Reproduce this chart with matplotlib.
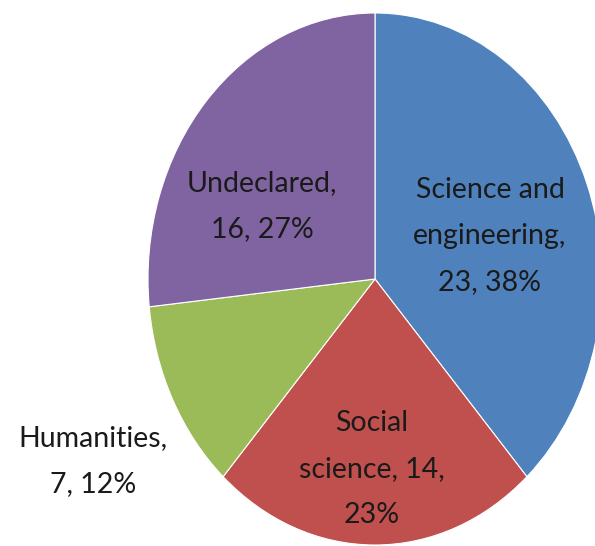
import matplotlib
matplotlib.use("Agg")
import matplotlib.pyplot as plt

categories = ["Science and\nengineering", "Social\nscience", "Humanities", "Undeclared"]
counts = [23, 14, 7, 16]
percents = [38, 23, 12, 27]
colors = ["#4F81BD", "#C0504D", "#9BBB59", "#8064A2"]
label_texts = [
    "Science and\nengineering,\n23, 38%",
    "Social\nscience, 14,\n23%",
    "Humanities,\n7, 12%",
    "Undeclared,\n16, 27%",
]

W, H = 595, 546
fig = plt.figure(figsize=(W / 100, H / 100), dpi=100)
# ellipse: center (375, 279), rx 227, ry 266 (pixels)
cx, cy, rx, ry = 375, 279, 227, 266
ax = fig.add_axes([(cx - rx) / W, (H - (cy + ry)) / H, 2 * rx / W, 2 * ry / H])
ax.pie(counts, colors=colors, startangle=90, counterclock=False,
       wedgeprops=dict(edgecolor="white", linewidth=0.8), radius=1.0)
ax.set_aspect("auto")
ax.set_xlim(-1, 1)
ax.set_ylim(-1, 1)
ax.axis("off")

def px2data(x, y):
    return ((x - cx) / rx, (cy - y) / ry)

label_pos = [(490, 236), (372, 469), (93, 461), (262, 206)]
for txt, (x, y) in zip(label_texts, label_pos):
    dx, dy = px2data(x, y)
    ax.text(dx, dy, txt, ha="center", va="center", fontsize=20.5,
            family="Lato", color="#1a1a1a", linespacing=1.95, clip_on=False)

fig.savefig("out.png", dpi=100)
